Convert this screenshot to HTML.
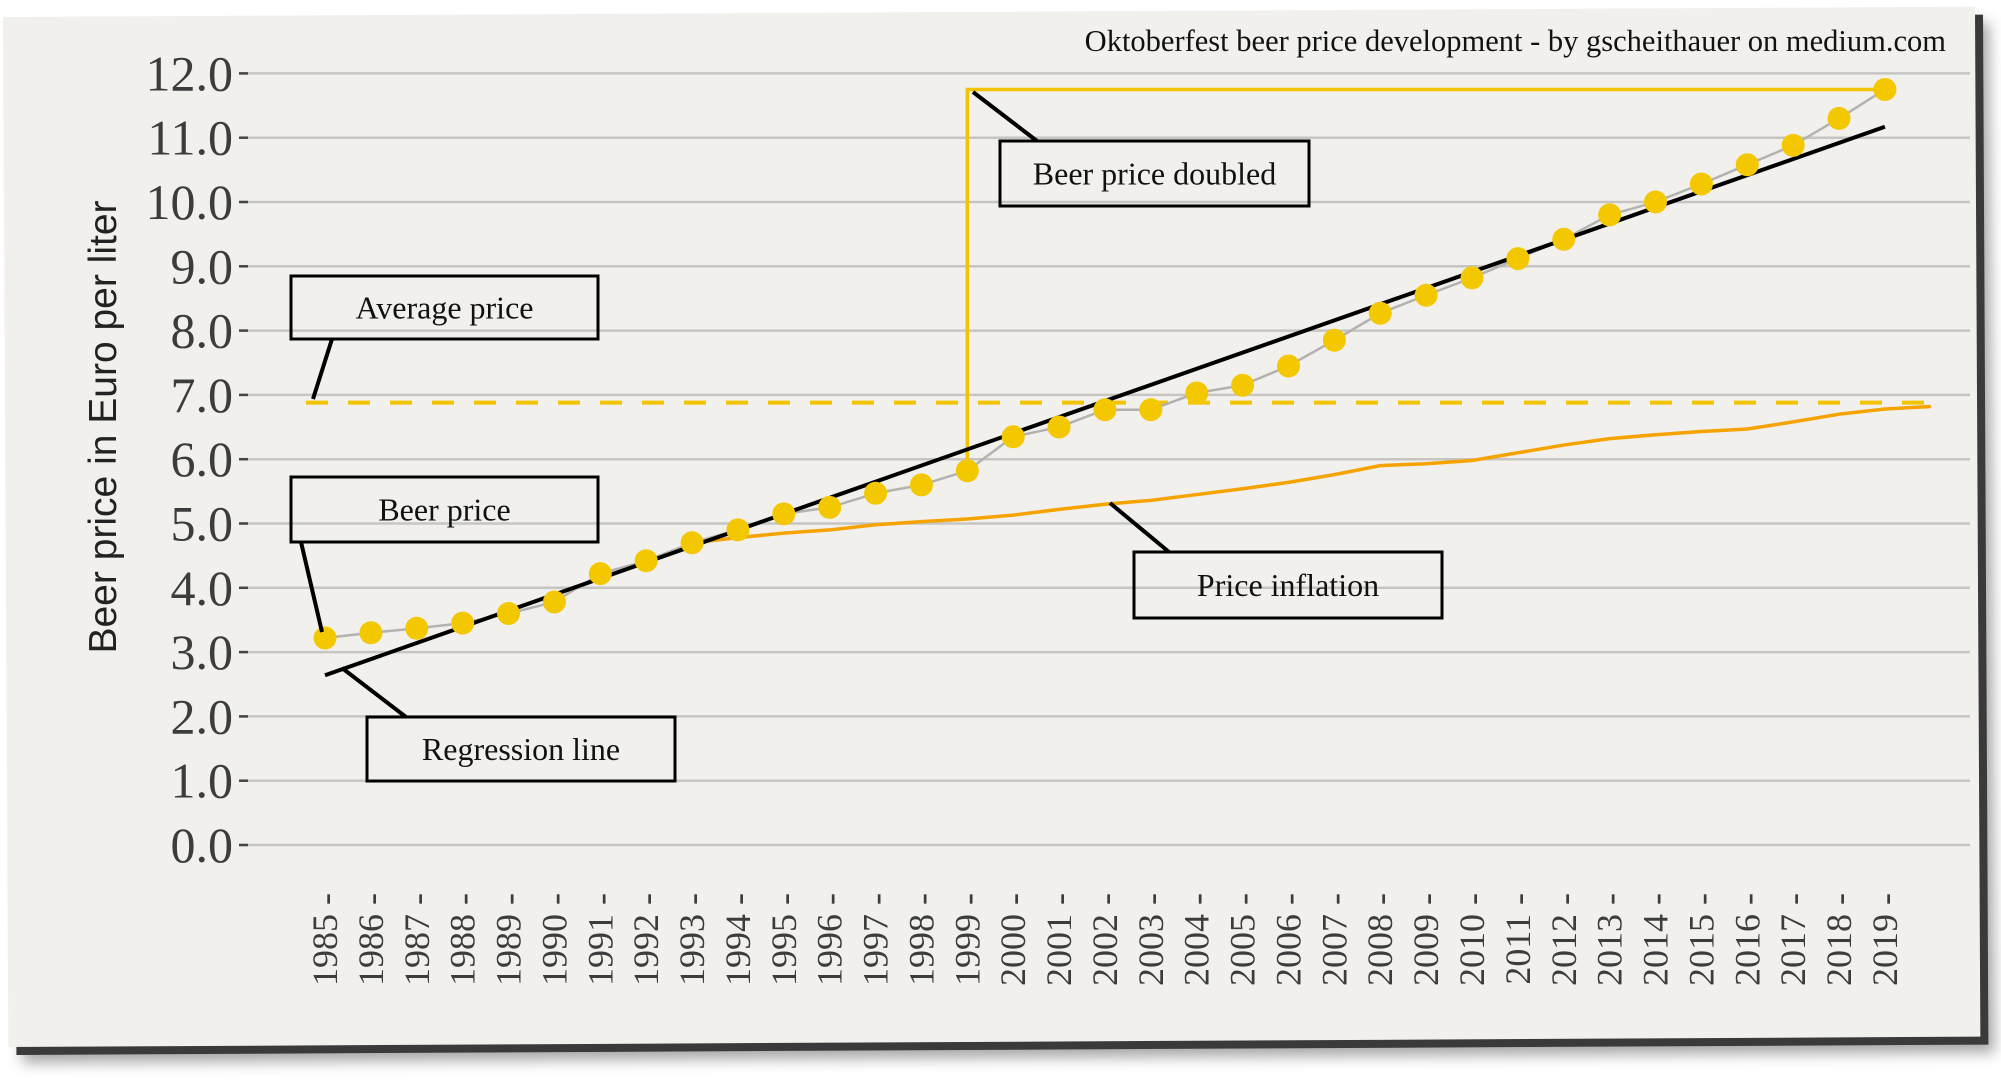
<!DOCTYPE html>
<html><head><meta charset="utf-8"><style>
html,body{margin:0;padding:0;background:#fff;width:2001px;height:1080px;overflow:hidden}
#paper{position:absolute;left:3px;top:17px;width:1972px;height:1030px;background:#f1f0ed;
box-shadow:8px 8px 0 #3a3a3a,14px 16px 14px rgba(0,0,0,0.35);transform:rotate(-0.3deg);transform-origin:0 0}
svg{position:absolute;left:0;top:0}
text{font-family:"Liberation Serif",serif}
</style></head><body>
<div id="paper"></div>
<svg id="chart" width="2001" height="1080"></svg>
<script>
const years=[1985,1986,1987,1988,1989,1990,1991,1992,1993,1994,1995,1996,1997,1998,1999,2000,2001,2002,2003,2004,2005,2006,2007,2008,2009,2010,2011,2012,2013,2014,2015,2016,2017,2018,2019];
const beerPrice=[3.22,3.30,3.37,3.45,3.60,3.78,4.22,4.42,4.70,4.90,5.15,5.25,5.47,5.60,5.82,6.35,6.50,6.77,6.77,7.03,7.15,7.45,7.85,8.27,8.55,8.82,9.12,9.42,9.80,10.00,10.28,10.58,10.88,11.30,11.75];
const inflationYears=[1993,1994,1995,1996,1997,1998,1999,2000,2001,2002,2003,2004,2005,2006,2007,2008,2009,2010,2011,2012,2013,2014,2015,2016,2017,2018,2019,2020];
const inflation=[4.70,4.78,4.85,4.90,4.98,5.03,5.07,5.13,5.22,5.30,5.36,5.45,5.54,5.64,5.76,5.90,5.93,5.98,6.10,6.22,6.32,6.38,6.43,6.47,6.58,6.70,6.78,6.82];
const regressionYears=[1985,2019];
const regressionValues=[2.64,11.17];
const averagePrice=6.88;
const yTicks=[0,1,2,3,4,5,6,7,8,9,10,11,12];
const yTickLabels=["0.0","1.0","2.0","3.0","4.0","5.0","6.0","7.0","8.0","9.0","10.0","11.0","12.0"];

const NS="http://www.w3.org/2000/svg";
const svg=document.getElementById('chart');
const X=y=>325+(y-1985)*45.88;
const Y=v=>845-v*64.3;
function mk(tag,at,parent){const e=document.createElementNS(NS,tag);for(const k in at)e.setAttribute(k,at[k]);(parent||svg).appendChild(e);return e;}

const g=mk('g',{});



yTicks.forEach((t,i)=>{
  const l=mk('line',{x1:240,x2:1970,y1:Y(t),y2:Y(t),stroke:'#c6c5c2','stroke-width':2.5},g);
  
  
  const tk=mk('line',{x1:239,x2:248,y1:Y(t),y2:Y(t),stroke:'#444','stroke-width':2.5},g);
  
  
  const tx=mk('text',{x:233,y:Y(t)+17,'text-anchor':'end','font-size':50,fill:'#3c3c3c'},g);
  tx.textContent=yTickLabels[i];
  
  
});
years.forEach(yr=>{
  const tx=mk('text',{x:0,y:0,'text-anchor':'end','font-size':36,fill:'#3c3c3c',transform:`translate(${X(yr)+12},893) rotate(-90)`},g);
  tx.textContent=yr+' -';
  
  
});
const yt=mk('text',{x:0,y:0,'text-anchor':'middle','font-size':39,fill:'#222',transform:'translate(116,427) rotate(-90)',style:'font-family:"Liberation Sans",sans-serif'},g);
yt.textContent='Beer price in Euro per liter';


const tt=mk('text',{x:1946,y:51,'text-anchor':'end','font-size':30.5,fill:'#111'},g);
tt.textContent='Oktoberfest beer price development - by gscheithauer on medium.com';



const av=mk('line',{x1:306,x2:1930,y1:Y(averagePrice),y2:Y(averagePrice),stroke:'#f2c300','stroke-width':4,'stroke-dasharray':'22 20'},g);


const ip=mk('polyline',{points:inflationYears.map((y,i)=>X(y)+','+Y(inflation[i])).join(' '),fill:'none',stroke:'#f5a300','stroke-width':3.5},g);


const i99=years.indexOf(1999), i19=years.indexOf(2019);
const br=mk('polyline',{points:`${X(1999)},${Y(beerPrice[i99])} ${X(1999)},${Y(beerPrice[i19])} ${X(2019)},${Y(beerPrice[i19])}`,fill:'none',stroke:'#f2c300','stroke-width':3.5},g);


const bl=mk('polyline',{points:years.map((y,i)=>X(y)+','+Y(beerPrice[i])).join(' '),fill:'none',stroke:'#b3b2ae','stroke-width':2.5},g);


const rl=mk('line',{x1:X(regressionYears[0]),y1:Y(regressionValues[0]),x2:X(regressionYears[1]),y2:Y(regressionValues[1]),stroke:'#000','stroke-width':4},g);


years.forEach((y,i)=>{
  const c=mk('circle',{cx:X(y),cy:Y(beerPrice[i]),r:11.5,fill:'#f4c800'},g);
  
  
});
const notes=[
 {name:'average-price-label',t:'Average price',x:291,y:276,w:307,h:63,lx1:332,ly1:339,lx2:313,ly2:399},
 {name:'beer-price-label',t:'Beer price',x:291,y:477,w:307,h:65,lx1:301,ly1:542,lx2:322,ly2:632},
 {name:'regression-line-label',t:'Regression line',x:367,y:717,w:308,h:64,lx1:406,ly1:717,lx2:342,ly2:668},
 {name:'price-inflation-label',t:'Price inflation',x:1134,y:552,w:308,h:66,lx1:1169,ly1:552,lx2:1110,ly2:503},
 {name:'beer-price-doubled-label',t:'Beer price doubled',x:1000,y:141,w:309,h:65,lx1:1037,ly1:141,lx2:973,ly2:92}
];
notes.forEach(n=>{
  const ln=mk('line',{x1:n.lx1,y1:n.ly1,x2:n.lx2,y2:n.ly2,stroke:'#000','stroke-width':4},g);
  
  
  const r=mk('rect',{x:n.x,y:n.y,width:n.w,height:n.h,fill:'none',stroke:'#000','stroke-width':3},g);
  
  
  const tx=mk('text',{x:n.x+n.w/2,y:n.y+n.h/2+11,'text-anchor':'middle','font-size':32,fill:'#111'},g);
  tx.textContent=n.t;
  
  
});
</script>
</body></html>
